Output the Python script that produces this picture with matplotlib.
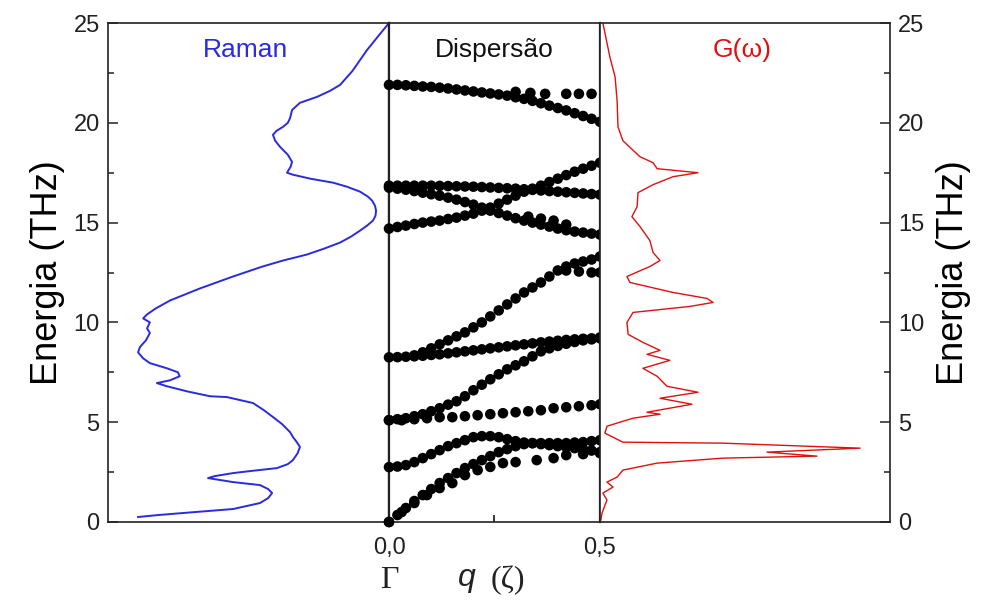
import numpy as np
import matplotlib
matplotlib.use("Agg")
import matplotlib.pyplot as plt
from matplotlib.ticker import MultipleLocator

plt.rcParams['font.family'] = ['Liberation Sans', 'DejaVu Sans']

# Raman (intensidade arbitraria, eixo invertido)
raman_E = [0.25, 0.35, 0.45, 0.65, 0.95, 1.2, 1.45, 1.65, 1.85, 2.0, 2.2, 2.3, 2.45, 2.55, 2.7,
           2.9, 3.1, 3.45, 3.76, 4.0, 4.26, 4.5, 4.9, 5.26, 5.6, 5.96, 6.26, 6.3, 6.55, 6.8,
           6.96, 7.1, 7.3, 7.5, 7.7, 7.96, 8.2, 8.5, 8.77, 9.1, 9.47, 9.7, 10.0, 10.2, 10.4,
           10.7, 11.1, 11.7, 12.3, 12.8, 13.1, 13.4, 13.7, 14.0, 14.3, 14.6, 14.85, 15.1, 15.35,
           15.6, 15.85, 16.1, 16.3, 16.55, 16.8, 17.0, 17.2, 17.4, 17.5, 17.8, 18.04, 18.4, 18.8,
           19.1, 19.4, 19.6, 19.8, 20.0, 20.24, 20.64, 21.0, 21.3, 21.6, 21.9, 22.6, 23.65,
           24.4, 25.0]
raman_I = [0.893, 0.82, 0.733, 0.555, 0.459, 0.43, 0.416, 0.43, 0.459, 0.555, 0.644, 0.62,
           0.555, 0.495, 0.399, 0.36, 0.342, 0.325, 0.317, 0.328, 0.342, 0.352, 0.38, 0.413,
           0.445, 0.484, 0.577, 0.637, 0.72, 0.790, 0.826, 0.779, 0.745, 0.751, 0.790, 0.851,
           0.875, 0.893, 0.886, 0.865, 0.851, 0.861, 0.851, 0.875, 0.861, 0.83, 0.779, 0.673,
           0.555, 0.45, 0.377, 0.292, 0.23, 0.174, 0.135, 0.103, 0.078, 0.057, 0.048, 0.046,
           0.05, 0.060, 0.075, 0.103, 0.15, 0.199, 0.28, 0.342, 0.363, 0.35, 0.345, 0.36, 0.388,
           0.405, 0.413, 0.4, 0.377, 0.36, 0.352, 0.345, 0.317, 0.256, 0.21, 0.174, 0.13, 0.078,
           0.035, 0.0]

# G(w)
g_E = [0.1, 0.45, 1.1, 1.45, 1.75, 2.0, 2.25, 2.6, 2.95, 3.2, 3.3, 3.5, 3.7, 3.95, 4.0, 4.45,
       4.8, 5.2, 5.4, 5.5, 5.9, 6.2, 6.5, 6.8, 7.3, 7.7, 8.1, 8.4, 8.6, 9.0, 9.4, 10.0, 10.5,
       10.8, 11.0, 11.2, 11.5, 12.0, 12.3, 12.8, 13.1, 13.5, 14.1, 14.8, 15.3, 15.8, 16.5,
       16.9, 17.3, 17.5, 17.7, 18.0, 18.3, 19.1, 19.8, 21.1, 22.3, 23.3, 25.0]
g_val = [0.003, 0.007, 0.024, 0.010, 0.045, 0.024, 0.059, 0.079, 0.197, 0.424, 0.748, 0.576,
         0.897, 0.424, 0.079, 0.017, 0.024, 0.114, 0.207, 0.162, 0.317, 0.207, 0.338, 0.231,
         0.197, 0.148, 0.241, 0.162, 0.207, 0.148, 0.097, 0.093, 0.114, 0.31, 0.39, 0.369,
         0.252, 0.103, 0.093, 0.172, 0.207, 0.183, 0.172, 0.138, 0.110, 0.128, 0.131, 0.183,
         0.252, 0.338, 0.197, 0.183, 0.138, 0.079, 0.062, 0.059, 0.052, 0.034, 0.01]

# Dispersao: ramos (q, E)
q_pts = [0.00, 0.02, 0.04, 0.06, 0.08, 0.10, 0.12, 0.14, 0.16, 0.18, 0.20, 0.22, 0.24,
         0.26, 0.28, 0.30, 0.32, 0.34, 0.36, 0.38, 0.40, 0.42, 0.44, 0.46, 0.48, 0.50]
ramo_A = [21.9, 21.9, 21.88, 21.85, 21.82, 21.8, 21.76, 21.72, 21.67, 21.62, 21.57, 21.52, 21.47,
          21.42, 21.36, 21.28, 21.2, 21.1, 20.98, 20.86, 20.74, 20.62, 20.48, 20.34, 20.2, 20.05]
ramo_B1 = [16.85, 16.85, 16.85, 16.85, 16.85, 16.85, 16.84, 16.83, 16.82, 16.81, 16.8, 16.78, 16.76,
           16.74, 16.72, 16.7, 16.67, 16.64, 16.61, 16.58, 16.55, 16.52, 16.49, 16.46, 16.43, 16.4]
ramo_B2 = [16.75, 16.7, 16.65, 16.58, 16.5, 16.42, 16.35, 16.25, 16.15, 16.03, 15.9, 15.75, 15.6,
           15.48, 15.35, 15.22, 15.1, 15.0, 14.9, 14.8, 14.7, 14.62, 14.55, 14.5, 14.45, 14.4]
ramo_B3 = [14.7, 14.78, 14.85, 14.93, 15.0, 15.05, 15.1, 15.18, 15.25, 15.35, 15.45, 15.6, 15.75,
           15.95, 16.15, 16.35, 16.55, 16.7, 16.85, 17.03, 17.2, 17.38, 17.55, 17.7, 17.85, 18.0]
ramo_D = [8.25, 8.26, 8.28, 8.3, 8.33, 8.37, 8.4, 8.45, 8.5, 8.55, 8.6, 8.65, 8.7,
          8.75, 8.8, 8.85, 8.9, 8.95, 9.0, 9.04, 9.08, 9.12, 9.15, 9.18, 9.2, 9.25]
ramo_E = [5.1, 5.15, 5.2, 5.3, 5.4, 5.55, 5.7, 5.88, 6.05, 6.3, 6.6, 6.88, 7.15,
          7.4, 7.65, 7.85, 8.05, 8.3, 8.55, 8.7, 8.82, 8.93, 9.02, 9.1, 9.15, 9.2]
ramo_G = [2.75, 2.78, 2.85, 3.0, 3.2, 3.4, 3.6, 3.8, 3.95, 4.1, 4.25, 4.3, 4.3,
          4.25, 4.15, 4.05, 3.98, 3.95, 3.95, 3.95, 3.95, 3.95, 3.98, 4.0, 4.05, 4.1]
ramo_H1 = [0.0, 0.35, 0.7, 1.05, 1.35, 1.65, 1.95, 2.2, 2.45, 2.7, 2.9, 3.1, 3.3,
           3.5, 3.65, 3.8, 3.9, 3.95, 3.9, 3.85, 3.8, 3.75, 3.7, 3.65, 3.58, 3.5]

q_C = [0.06, 0.08, 0.10, 0.12, 0.14, 0.16, 0.18, 0.20, 0.22, 0.24, 0.26, 0.28, 0.30, 0.32,
       0.34, 0.36, 0.38, 0.40, 0.42, 0.44, 0.46, 0.48, 0.50]
ramo_C = [8.35, 8.5, 8.7, 8.9, 9.1, 9.3, 9.5, 9.75, 10.0, 10.3, 10.6, 10.9, 11.2, 11.5,
          11.75, 12.0, 12.3, 12.6, 12.8, 12.95, 13.05, 13.15, 13.3]

q_A2 = [0.30, 0.335, 0.37, 0.42, 0.45, 0.48]
ramo_A2 = [21.55, 21.5, 21.45, 21.45, 21.45, 21.45]
q_B4 = [0.33, 0.36, 0.39, 0.42]
ramo_B4 = [15.3, 15.2, 15.1, 14.9]
q_C2 = [0.42, 0.45, 0.48, 0.50]
ramo_C2 = [12.6, 12.55, 12.5, 12.5]
q_F = [0.00, 0.03, 0.06, 0.09, 0.12, 0.15, 0.18, 0.21, 0.24, 0.27, 0.30, 0.33, 0.36,
       0.39, 0.42, 0.45, 0.48, 0.50]
ramo_F = [5.1, 5.1, 5.15, 5.2, 5.25, 5.25, 5.3, 5.35, 5.4, 5.45, 5.5, 5.55, 5.6,
          5.7, 5.75, 5.8, 5.85, 5.9]
q_H2 = [0.0, 0.03, 0.06, 0.09, 0.12, 0.15, 0.18, 0.21, 0.24, 0.27, 0.30, 0.35, 0.39,
        0.42, 0.46, 0.50]
ramo_H2 = [0.0, 0.5, 0.95, 1.35, 1.7, 1.95, 2.35, 2.6, 2.76, 2.95, 3.0, 3.1, 3.2,
           3.35, 3.4, 3.45]

fig = plt.figure(figsize=(9.86, 6.08), dpi=100)
bot = 1 - 522 / 608
alt = 499 / 608
ax1 = fig.add_axes([108 / 986, bot, 281 / 986, alt])
ax2 = fig.add_axes([389 / 986, bot, 211 / 986, alt])
ax3 = fig.add_axes([600 / 986, bot, 290 / 986, alt])

for ax in (ax1, ax2, ax3):
    ax.set_ylim(0, 25)
    for s in ax.spines.values():
        s.set_linewidth(1.2)
        s.set_color('#222222')
    ax.set_xticks([])
    ax.tick_params(axis='y', which='both', left=False, right=False,
                   labelleft=False, labelright=False)

# painel Raman
ax1.plot(raman_I, raman_E, color='#2a2ae0', lw=1.4)
ax1.set_xlim(1.0, 0.0)
ax1.yaxis.set_major_locator(MultipleLocator(5))
ax1.yaxis.set_minor_locator(MultipleLocator(2.5))
ax1.tick_params(axis='y', which='both', direction='in', left=True, labelleft=True,
                labelsize=17, colors='#222222', pad=6)
ax1.tick_params(axis='y', which='major', length=7, width=1.1)
ax1.tick_params(axis='y', which='minor', length=4, width=1.1)
ax1.set_ylabel('Energia (THz)', fontsize=26, labelpad=6)
ax1.text(0.49, 0.945, 'Raman', transform=ax1.transAxes, ha='center', va='center',
         fontsize=19, color='#2a2ae0')
ax1.spines['right'].set_linewidth(1.6)

# painel dispersao
ax2.set_xlim(0, 0.5)
ramos = [(q_pts, ramo_A), (q_pts, ramo_B1), (q_pts, ramo_B2), (q_pts, ramo_B3),
         (q_pts, ramo_D), (q_pts, ramo_E), (q_pts, ramo_G), (q_pts, ramo_H1),
         (q_C, ramo_C), (q_A2, ramo_A2), (q_B4, ramo_B4), (q_C2, ramo_C2),
         (q_F, ramo_F), (q_H2, ramo_H2)]
for qq, ee in ramos:
    ax2.scatter(qq, ee, s=58, color='black', edgecolors='none', clip_on=False, zorder=3)
ax2.set_xticks([0.25])
ax2.tick_params(axis='x', direction='in', length=5, width=1.1, labelbottom=False)
ax2.text(0.5, 0.945, 'Dispersão', transform=ax2.transAxes, ha='center', va='center',
         fontsize=19, color='#111111')
ax2.spines['left'].set_linewidth(1.6)
ax2.spines['right'].set_linewidth(1.6)

# painel G(w)
ax3.plot(g_val, g_E, color='#e01010', lw=1.0)
ax3.set_xlim(0, 1.0)
ax3.yaxis.set_major_locator(MultipleLocator(5))
ax3.yaxis.set_minor_locator(MultipleLocator(2.5))
ax3.tick_params(axis='y', which='both', direction='in', right=True, labelright=True,
                labelsize=17, colors='#222222', pad=6)
ax3.tick_params(axis='y', which='major', length=7, width=1.1)
ax3.tick_params(axis='y', which='minor', length=4, width=1.1)
ax3.yaxis.set_label_position('right')
ax3.set_ylabel('Energia (THz)', fontsize=26, labelpad=8, rotation=90)
ax3.text(0.49, 0.945, 'G(ω)', transform=ax3.transAxes, ha='center', va='center',
         fontsize=19, color='#e01010')

# rotulos do eixo q
fig.text(389 / 986, 1 - 548 / 608, '0,0', ha='center', va='center', fontsize=17, color='#222222')
fig.text(600 / 986, 1 - 548 / 608, '0,5', ha='center', va='center', fontsize=17, color='#222222')
fig.text(389 / 986, 1 - 580 / 608, 'Γ', ha='center', va='center', fontsize=23,
         family='Liberation Serif', color='#222222')
fig.text(467 / 986, 1 - 578 / 608, 'q', ha='center', va='center', fontsize=23,
         style='italic', color='#222222')
fig.text(508 / 986, 1 - 580 / 608, '(ζ)', ha='center', va='center', fontsize=23,
         family=['Liberation Serif', 'DejaVu Serif'], color='#222222')

fig.savefig('out.png', dpi=100)
